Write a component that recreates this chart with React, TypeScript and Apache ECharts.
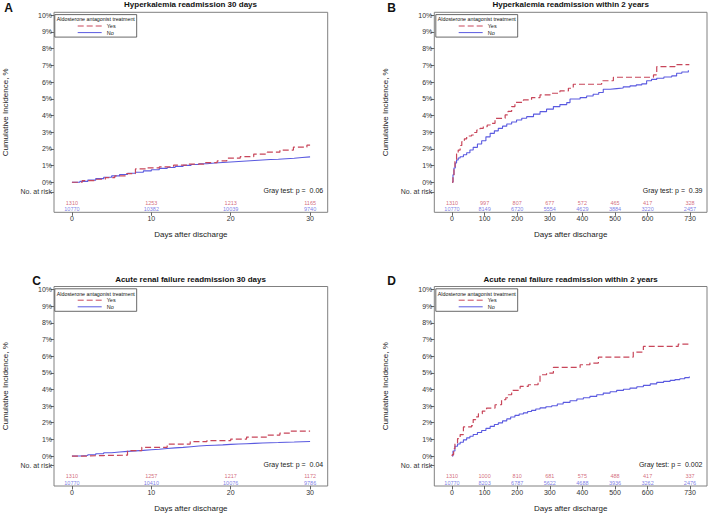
import React, { useEffect, useRef } from "react";
import * as echarts from "echarts";

// ---------- data ----------
const riskDays30 = [0, 10, 20, 30];
const riskDays2y = [0, 100, 200, 300, 400, 500, 600, 730];
const xTicks30 = [0, 10, 20, 30];
const xTicks2y = [0, 100, 200, 300, 400, 500, 600, 730];
const yTicks = [0, 1, 2, 3, 4, 5, 6, 7, 8, 9, 10];

const hyper30Yes = [[0,0],[1.3,0.1],[2.8,0.18],[4.2,0.28],[5.4,0.38],[6.9,0.52],[8.0,0.8],[9.5,0.86],[11,0.92],[12.8,1.02],[14.5,1.08],[16.6,1.18],[18.3,1.28],[19.5,1.44],[21.2,1.53],[22.9,1.69],[24.6,1.8],[26.2,1.93],[27.9,2.1],[29.6,2.22],[30,2.22]];
const hyper30No = [[0,0],[1,0.05],[2,0.13],[3,0.22],[4,0.3],[5,0.38],[6,0.46],[7,0.54],[8,0.6],[9,0.68],[10,0.75],[11,0.83],[12,0.88],[13,0.95],[14,1.01],[15,1.06],[16,1.11],[17,1.15],[18,1.18],[19,1.21],[20,1.24],[21,1.27],[22,1.3],[23,1.33],[24,1.36],[25,1.38],[26,1.41],[27,1.44],[28,1.48],[29,1.52],[30,1.56]];
const hyper2yYes = [[0,0],[3,0.4],[6,0.9],[9,1.33],[14,1.7],[19,1.93],[25,2.2],[30,2.43],[38,2.6],[45,2.77],[60,2.83],[68,2.98],[76,3.13],[86,3.23],[96,3.33],[108,3.43],[117,3.53],[132,3.83],[163,4.03],[172,4.25],[183,4.53],[193,4.79],[219,4.93],[244,5.07],[270,5.23],[301,5.33],[331,5.47],[357,5.63],[372,5.87],[459,6.08],[495,6.29],[618,6.43],[628,6.92],[684,7.04],[728,7.04]];
const hyper2yNo = [[0,0],[3,0.45],[6,0.85],[10,1.15],[14,1.33],[19,1.45],[25,1.53],[35,1.65],[45,1.77],[55,1.93],[65,2.09],[78,2.29],[91,2.49],[104,2.72],[117,2.93],[130,3.08],[142,3.23],[155,3.36],[168,3.49],[183,3.61],[198,3.73],[214,3.83],[229,3.93],[250,4.08],[270,4.23],[290,4.38],[311,4.53],[331,4.65],[352,4.77],[362,4.99],[393,5.07],[413,5.17],[433,5.27],[450,5.38],[464,5.57],[485,5.61],[505,5.65],[525,5.71],[546,5.77],[565,5.83],[582,5.89],[597,6.08],[612,6.16],[628,6.23],[650,6.3],[674,6.37],[689,6.53],[705,6.6],[725,6.71]];
const arf30Yes = [[0,0],[2,0.03],[4,0.05],[7,0.32],[8.8,0.52],[12,0.72],[14.9,0.86],[17,0.92],[20,1.02],[22,1.14],[24.6,1.26],[26.2,1.38],[27.5,1.5],[30,1.5]];
const arf30No = [[0,0],[1,0.03],[2,0.08],[3,0.14],[4,0.2],[5,0.24],[6,0.28],[7,0.31],[8,0.34],[9,0.38],[10,0.41],[11,0.45],[12,0.49],[13,0.52],[14,0.56],[15,0.6],[16,0.63],[17,0.65],[18,0.67],[19,0.7],[20,0.72],[21,0.74],[22,0.76],[23,0.78],[24,0.8],[25,0.81],[26,0.83],[27,0.84],[28,0.86],[29,0.87],[30,0.88]];
const arf2yYes = [[0,0],[1,0.09],[5,0.45],[9,0.79],[17,1.05],[25,1.29],[35,1.75],[60,1.83],[65,2.19],[73,2.35],[81,2.54],[93,2.7],[106,2.88],[132,3.08],[152,3.38],[165,3.5],[173,3.68],[183,3.94],[209,4.18],[234,4.28],[264,4.45],[270,4.88],[290,4.98],[311,5.32],[393,5.48],[423,5.58],[449,5.94],[556,6.24],[587,6.58],[694,6.72],[728,6.72]];
const arf2yNo = [[0,0],[3,0.3],[9,0.59],[17,0.72],[25,0.83],[35,0.97],[45,1.09],[55,1.19],[65,1.29],[78,1.41],[91,1.53],[104,1.66],[117,1.78],[130,1.89],[142,1.99],[155,2.11],[168,2.23],[180,2.34],[193,2.44],[206,2.52],[219,2.59],[232,2.67],[244,2.74],[257,2.82],[270,2.89],[288,2.96],[306,3.02],[323,3.12],[341,3.22],[362,3.32],[383,3.42],[403,3.5],[423,3.58],[444,3.68],[464,3.78],[485,3.86],[505,3.94],[526,4.01],[546,4.08],[567,4.16],[587,4.24],[608,4.33],[628,4.42],[649,4.48],[669,4.54],[684,4.59],[699,4.64],[714,4.71],[728,4.78]];

const riskHyper30Yes = [1310, 1253, 1213, 1165];
const riskHyper30No = [10770, 10382, 10039, 9740];
const riskHyper2yYes = [1310, 997, 807, 677, 572, 465, 417, 328];
const riskHyper2yNo = [10770, 8149, 6720, 5554, 4629, 3884, 3220, 2457];
const riskArf30Yes = [1310, 1257, 1217, 1172];
const riskArf30No = [10770, 10410, 10076, 9786];
const riskArf2yYes = [1310, 1000, 810, 681, 575, 488, 417, 337];
const riskArf2yNo = [10770, 8203, 6787, 5622, 4688, 3936, 3262, 2476];

const titles = [
  "Hyperkalemia readmission 30 days",
  "Hyperkalemia readmission within 2 years",
  "Acute renal failure readmission 30 days",
  "Acute renal failure readmission within 2 years",
];
const letters = ["A", "B", "C", "D"];
const grayTests = ["Gray test: p =  0.06", "Gray test: p =  0.39", "Gray test: p =  0.04", "Gray test: p =  0.002"];
const legendTitle = "Aldosterone antagonist treatment";
const NO_AT_RISK = -0.58;

// ---------- styles / layout ----------
const RED = "#c8465a";
const BLUE = "#5a5ae0";
const FONT = "'Liberation Sans', Arial, sans-serif";

const panels = [
  { yes: hyper30Yes, no: hyper30No, riskDays: riskDays30, rYes: riskHyper30Yes, rNo: riskHyper30No, ticks: xTicks30, xMin: -2.26, xMax: 32.22, left: 53.3, top: 12.3, width: 274.4, letterX: 8.5, letterY: 8 },
  { yes: hyper2yYes, no: hyper2yNo, riskDays: riskDays2y, rYes: riskHyper2yYes, rNo: riskHyper2yNo, ticks: xTicks2y, xMin: -54.3, xMax: 782.2, left: 434.3, top: 12.3, width: 272.7, letterX: 391.5, letterY: 8 },
  { yes: arf30Yes, no: arf30No, riskDays: riskDays30, rYes: riskArf30Yes, rNo: riskArf30No, ticks: xTicks30, xMin: -2.26, xMax: 32.22, left: 53.3, top: 286.5, width: 274.4, letterX: 36.5, letterY: 281 },
  { yes: arf2yYes, no: arf2yNo, riskDays: riskDays2y, rYes: riskArf2yYes, rNo: riskArf2yNo, ticks: xTicks2y, xMin: -54.3, xMax: 782.2, left: 434.3, top: 286.5, width: 272.7, letterX: 391.5, letterY: 281 },
];
const H = 200;
const Y_MIN = -1.8;
const Y_MAX = 10.18;

export default function App() {
  const ref = useRef<HTMLDivElement>(null);
  useEffect(() => {
    document.body.style.margin = "0";
    if (!ref.current) return;
    const chart = echarts.init(ref.current, null, { renderer: "svg" });
    const grid: any[] = [];
    const xAxis: any[] = [];
    const yAxis: any[] = [];
    const series: any[] = [];
    const legend: any[] = [];
    const graphic: any[] = [];
    const yVals = [NO_AT_RISK, ...yTicks];

    panels.forEach((p, i) => {
      grid.push({ left: p.left, top: p.top, width: p.width, height: H, show: true, borderColor: "#808080", borderWidth: 1, backgroundColor: "transparent" });
      xAxis.push({
        type: "value", gridIndex: i, min: p.xMin, max: p.xMax,
        name: "Days after discharge", nameLocation: "middle", nameGap: 18,
        nameTextStyle: { fontSize: 8, color: "#222", fontFamily: FONT },
        axisLine: { show: false, onZero: false }, splitLine: { show: false },
        axisTick: { show: true, length: 3.5, customValues: p.ticks, lineStyle: { color: "#666" } },
        axisLabel: { customValues: p.ticks, fontSize: 7, color: "#333", margin: 3, fontFamily: FONT },
      });
      yAxis.push({
        type: "value", gridIndex: i, min: Y_MIN, max: Y_MAX,
        name: "Cumulative Incidence, %", nameLocation: "middle", nameGap: 45, nameRotate: 90,
        nameTextStyle: { fontSize: 8, color: "#222", fontFamily: FONT },
        axisLine: { show: false, onZero: false }, splitLine: { show: false },
        axisTick: { show: true, length: 3.5, customValues: yVals, lineStyle: { color: "#666" } },
        axisLabel: {
          customValues: yVals, fontSize: 7, color: "#333", margin: 2, fontFamily: FONT,
          formatter: (v: number) => (v < 0 ? "No. at risk" : `${v}%`),
        },
      });
      series.push({
        name: "Yes", type: "line", step: "end", xAxisIndex: i, yAxisIndex: i, data: p.yes,
        showSymbol: false, symbol: "none", color: RED,
        lineStyle: { color: RED, width: 1.2, type: [6, 3] }, z: 3,
      });
      series.push({
        name: "No", type: "line", step: "end", xAxisIndex: i, yAxisIndex: i, data: p.no,
        showSymbol: false, symbol: "none", color: BLUE,
        lineStyle: { color: BLUE, width: 1.1 }, z: 2,
      });
      series.push({
        name: "risk-yes", type: "scatter", xAxisIndex: i, yAxisIndex: i, symbolSize: 0, silent: true,
        data: p.riskDays.map((d, k) => [d, -1.22, p.rYes[k]]),
        label: { show: true, position: "inside", formatter: (q: any) => String(q.value[2]), color: RED, fontSize: 5.5, fontFamily: FONT },
      });
      series.push({
        name: "risk-no", type: "scatter", xAxisIndex: i, yAxisIndex: i, symbolSize: 0, silent: true,
        data: p.riskDays.map((d, k) => [d, -1.62, p.rNo[k]]),
        label: { show: true, position: "inside", formatter: (q: any) => String(q.value[2]), color: BLUE, fontSize: 5.5, fontFamily: FONT },
      });
      const lx = p.left + 1.5;
      const ly = p.top + 2.3;
      legend.push({
        left: lx, top: ly, orient: "vertical", data: ["Yes", "No"], selectedMode: false,
        itemWidth: 24, itemHeight: 5, itemGap: 0.6, align: "left",
        padding: [8.4, 21, 1.5, 22.4], borderColor: "#444", borderWidth: 0.8,
        itemStyle: { opacity: 0, borderWidth: 0 },
        lineStyle: { width: 1 },
        textStyle: { fontSize: 5.5, lineHeight: 5.5, color: "#222", fontFamily: FONT },
      });
      graphic.push({
        type: "text", x: lx + 41, y: ly + 4.7,
        style: { text: legendTitle, fontSize: 5.3, fontFamily: FONT, fill: "#111", align: "center", verticalAlign: "middle" },
      });
      graphic.push({
        type: "text", x: p.left + p.width / 2, y: p.top - 7.5,
        style: { text: titles[i], fontSize: 8, fontWeight: "bold", fontFamily: FONT, fill: "#111", align: "center", verticalAlign: "middle" },
      });
      graphic.push({
        type: "text", x: p.letterX, y: p.letterY,
        style: { text: letters[i], fontSize: 12, fontWeight: "bold", fontFamily: FONT, fill: "#111", align: "center", verticalAlign: "middle" },
      });
      graphic.push({
        type: "text", x: p.left + p.width - 4.5, y: p.top + 178,
        style: { text: grayTests[i], fontSize: 7, fontFamily: FONT, fill: "#222", align: "right", verticalAlign: "middle" },
      });
    });

    chart.setOption({
      animation: false,
      textStyle: { fontFamily: FONT },
      grid, xAxis, yAxis, series, legend, graphic,
    });
    return () => chart.dispose();
  }, []);
  return <div ref={ref} style={{ width: 709, height: 513 }} />;
}
